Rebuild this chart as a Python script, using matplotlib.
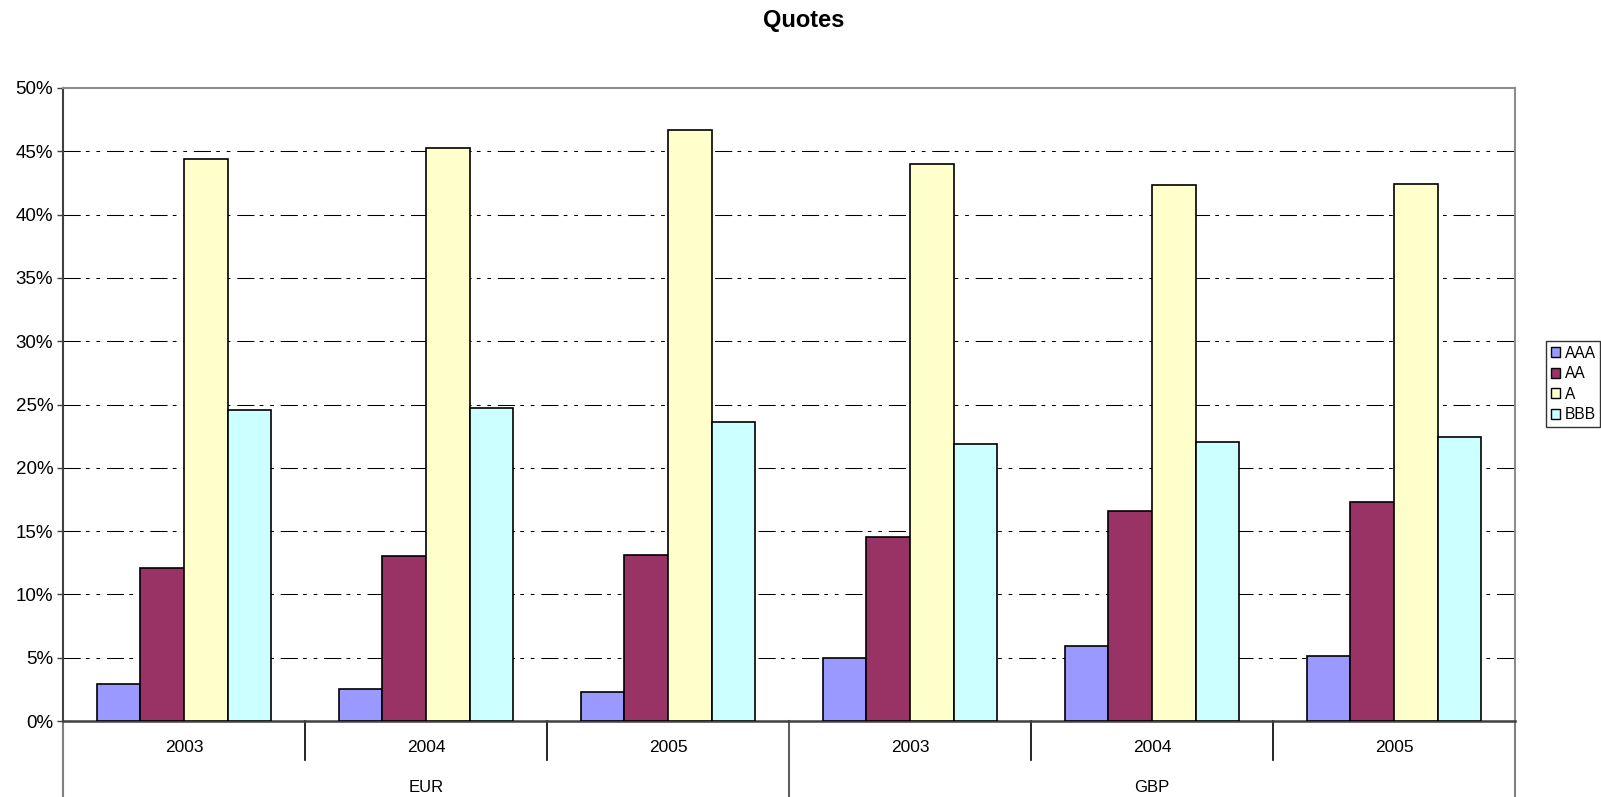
import matplotlib
matplotlib.use("Agg")
import matplotlib.pyplot as plt
import matplotlib.transforms as mtransforms
from matplotlib.patches import Patch
from matplotlib.ticker import MultipleLocator, PercentFormatter

plt.rcParams['font.family'] = ['Liberation Sans', 'DejaVu Sans']

# Data
currencies = ["EUR", "GBP"]
years = ["2003", "2004", "2005"]
ratings = ["AAA", "AA", "A", "BBB"]
aaa = [2.9, 2.5, 2.3, 5.0, 5.9, 5.1]
aa = [12.1, 13.0, 13.1, 14.5, 16.6, 17.3]
a = [44.4, 45.3, 46.7, 44.0, 42.3, 42.4]
bbb = [24.6, 24.7, 23.6, 21.9, 22.0, 22.4]
series = [aaa, aa, a, bbb]
colors = ["#9999FF", "#993366", "#FFFFCC", "#CCFFFF"]

W, H = 1601, 797
fig = plt.figure(figsize=(W / 100, H / 100), dpi=100)
left, right, top, zero = 63, 1515, 88, 721
ax = fig.add_axes([left / W, 1 - zero / H, (right - left) / W, (zero - top) / H])

n = len(currencies) * len(years)
xs = list(range(n))
bw = 0.18
offsets = [-1.5 * bw, -0.5 * bw, 0.5 * bw, 1.5 * bw]
for vals, off, col, name in zip(series, offsets, colors, ratings):
    ax.bar([x + off for x in xs], vals, width=bw, color=col,
           edgecolor="black", linewidth=1.2, label=name, zorder=3)

ax.set_xlim(-0.5, n - 0.5)
ax.set_ylim(0, 50)
ax.yaxis.set_major_locator(MultipleLocator(5))
ax.yaxis.set_major_formatter(PercentFormatter(decimals=0))
ax.tick_params(axis='y', labelsize=13.5, length=4, width=1, color="#404040",
               direction='out', pad=3)
ax.set_xticks([])

# dashed horizontal gridlines (long dash, dot, dot)
for yv in range(5, 50, 5):
    ax.axhline(yv, color="black", linewidth=0.75,
               dashes=(16.5, 5, 3.6, 6.5, 3.6, 6.5), zorder=1)

for s in ["top", "right"]:
    ax.spines[s].set_color("#8c8c8c")
    ax.spines[s].set_linewidth(1.5)
ax.spines["left"].set_color("#404040")
ax.spines["left"].set_linewidth(1.5)
ax.spines["bottom"].set_color("#404040")
ax.spines["bottom"].set_linewidth(1.8)

# two-level category axis below the plot
trans = mtransforms.blended_transform_factory(ax.transData, ax.transAxes)
ph = zero - top
yr_y = -(748 - zero) / ph
cur_y = -(788 - zero) / ph
sep_short = -(760 - zero) / ph
sep_long = -(H - zero) / ph
for i, x in enumerate(xs):
    ax.text(x, yr_y, years[i % len(years)], transform=trans, ha='center',
            va='center', fontsize=12.5, color="black")
for j, cur in enumerate(currencies):
    cx = j * len(years) + (len(years) - 1) / 2
    ax.text(cx, cur_y, cur, transform=trans, ha='center', va='center',
            fontsize=12, color="black")
for x in xs[:-1]:
    b = x + 0.5
    if (x + 1) % len(years) == 0:
        ax.plot([b, b], [0, sep_long], transform=trans, color="#606060",
                linewidth=1.5, clip_on=False)
    else:
        ax.plot([b, b], [0, sep_short], transform=trans, color="black",
                linewidth=1.2, clip_on=False)
ax.plot([-0.5, -0.5], [0, sep_long], transform=trans, color="#808080",
        linewidth=1.5, clip_on=False)
ax.plot([n - 0.5, n - 0.5], [0, sep_long], transform=trans, color="#808080",
        linewidth=1.5, clip_on=False)

fig.text(804 / W, 1 - 21 / H, "Quotes", ha='center', va='center',
         fontsize=17, fontweight='bold')

handles = [Patch(facecolor=c, edgecolor="black", linewidth=1.0) for c in colors]
leg = fig.legend(handles, ratings, loc='upper left',
                 bbox_to_anchor=(1546 / W, 1 - 341 / H), fontsize=11.2,
                 frameon=True, fancybox=False, edgecolor="black",
                 handlelength=0.6, handleheight=0.6, handletextpad=0.3,
                 labelspacing=0.36, borderpad=0.3, borderaxespad=0)
leg.get_frame().set_linewidth(1.0)

fig.savefig("out.png", dpi=100, facecolor="white")
